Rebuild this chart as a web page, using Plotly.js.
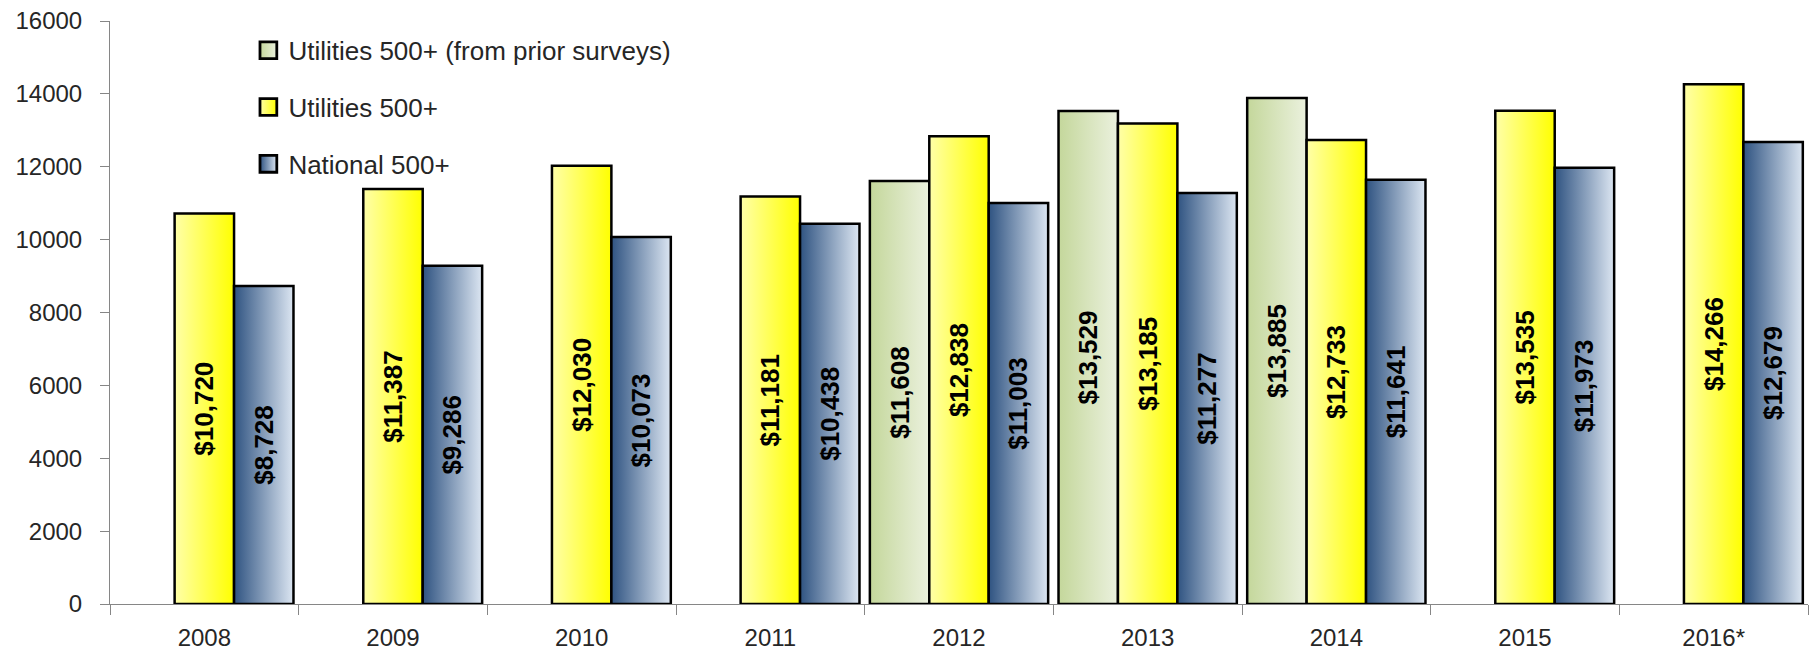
<!DOCTYPE html>
<html>
<head>
<meta charset="utf-8">
<script src="https://cdn.plot.ly/plotly-3.0.1.min.js"></script>
<style>
html,body{margin:0;padding:0;background:#ffffff;}
#chart{width:1809px;height:653px;}
</style>
</head>
<body>
<div id="chart"></div>
<script>
// ---- data ----
const years = ['2008','2009','2010','2011','2012','2013','2014','2015','2016*'];
const utilitiesPrior = [null, null, null, null, 11608, 13529, 13885, null, null];
const utilities = [10720, 11387, 12030, 11181, 12838, 13185, 12733, 13535, 14266];
const national = [8728, 9286, 10073, 10438, 11003, 11277, 11641, 11973, 12679];
const seriesNames = ['Utilities 500+ (from prior surveys)', 'Utilities 500+', 'National 500+'];
const yTickVals = [0, 2000, 4000, 6000, 8000, 10000, 12000, 14000, 16000];

// ---- styles ----
const baseColors = ['#d8e4bc', '#ffff80', '#7f9cc0'];
const gradients = [
  ['#c4d79b', '#ebf1de'],
  ['#ffffa8', '#ffff00'],
  ['#2f5381', '#dce6f2']
];
const labelFont = {family: 'Liberation Sans, Arial, sans-serif', size: 26, color: '#000000', weight: 'bold'};
const tickFont = {family: 'Liberation Sans, Arial, sans-serif', size: 24, color: '#262626'};

function mkTrace(name, vals, idx) {
  return {
    type: 'bar',
    name: name,
    x: years,
    y: vals,
    legendgroup: 'g' + idx,
    marker: {color: baseColors[idx], line: {color: '#000000', width: 2.5}},
    texttemplate: '%{y:$,}',
    textposition: 'inside',
    insidetextanchor: 'middle',
    textangle: -90,
    constraintext: 'none',
    textfont: labelFont,
    insidetextfont: labelFont,
    hoverinfo: 'skip'
  };
}

const data = [
  mkTrace(seriesNames[0], utilitiesPrior, 0),
  mkTrace(seriesNames[1], utilities, 1),
  mkTrace(seriesNames[2], national, 2)
];

const layout = {
  width: 1809,
  height: 653,
  margin: {l: 110, r: 1, t: 21, b: 49, pad: 0},
  paper_bgcolor: '#ffffff',
  plot_bgcolor: '#ffffff',
  barmode: 'group',
  bargap: 0.055,
  bargroupgap: 0,
  showlegend: true,
  legend: {
    x: 0.0815, xanchor: 'left',
    y: 0.99, yanchor: 'top',
    bgcolor: 'rgba(0,0,0,0)',
    font: {family: 'Liberation Sans, Arial, sans-serif', size: 26, color: '#262626'},
    traceorder: 'grouped',
    tracegroupgap: 20,
    itemclick: false,
    itemdoubleclick: false
  },
  xaxis: {
    type: 'category',
    showline: true, linecolor: '#868686', linewidth: 1,
    ticks: 'outside', tickson: 'boundaries', ticklen: 10, tickcolor: '#868686', tickwidth: 1,
    tickfont: tickFont,
    ticklabelstandoff: 12,
    showgrid: false, zeroline: false, fixedrange: true
  },
  yaxis: {
    range: [0, 16000],
    tickvals: yTickVals,
    ticktext: yTickVals.map(String),
    showline: true, linecolor: '#868686', linewidth: 1,
    ticks: 'outside', ticklen: 9, tickcolor: '#868686', tickwidth: 1,
    tickfont: tickFont,
    ticklabelstandoff: 13,
    showgrid: false, zeroline: false, fixedrange: true
  }
};

const NS = 'http://www.w3.org/2000/svg';
function applyGradients(gd) {
  const svg = gd.querySelector('svg.main-svg');
  if (!svg) return;
  if (!svg.querySelector('#bar-grad-defs')) {
    const defs = document.createElementNS(NS, 'defs');
    defs.setAttribute('id', 'bar-grad-defs');
    gradients.forEach((g, i) => {
      const lg = document.createElementNS(NS, 'linearGradient');
      lg.setAttribute('id', 'bargrad' + i);
      lg.setAttribute('x1', '0'); lg.setAttribute('y1', '0');
      lg.setAttribute('x2', '1'); lg.setAttribute('y2', '0');
      const s1 = document.createElementNS(NS, 'stop');
      s1.setAttribute('offset', '0'); s1.setAttribute('stop-color', g[0]);
      const s2 = document.createElementNS(NS, 'stop');
      s2.setAttribute('offset', '1'); s2.setAttribute('stop-color', g[1]);
      lg.appendChild(s1); lg.appendChild(s2);
      defs.appendChild(lg);
    });
    svg.insertBefore(defs, svg.firstChild);
  }
  gd.querySelectorAll('.barlayer .trace.bars').forEach((t, i) => {
    t.querySelectorAll('.point path').forEach(p => { p.style.fill = 'url(#bargrad' + i + ')'; });
  });
  gd.querySelectorAll('.legend .traces').forEach((t, i) => {
    t.querySelectorAll('.legendpoints path').forEach(p => {
      p.style.fill = 'url(#bargrad' + i + ')';
      if (!p.hasAttribute('data-orig-tf')) {
        p.setAttribute('data-orig-tf', p.getAttribute('transform') || '');
      }
      const orig = p.getAttribute('data-orig-tf');
      p.setAttribute('transform', (orig ? orig + ' ' : '') + 'scale(1.4)');
      p.style.strokeWidth = '2px';
      p.style.stroke = '#000000';
    });
  });
}

const gd = document.getElementById('chart');
Plotly.newPlot(gd, data, layout, {displayModeBar: false, staticPlot: true}).then(() => {
  applyGradients(gd);
  gd.on && gd.on('plotly_afterplot', () => applyGradients(gd));
});
</script>
</body>
</html>
